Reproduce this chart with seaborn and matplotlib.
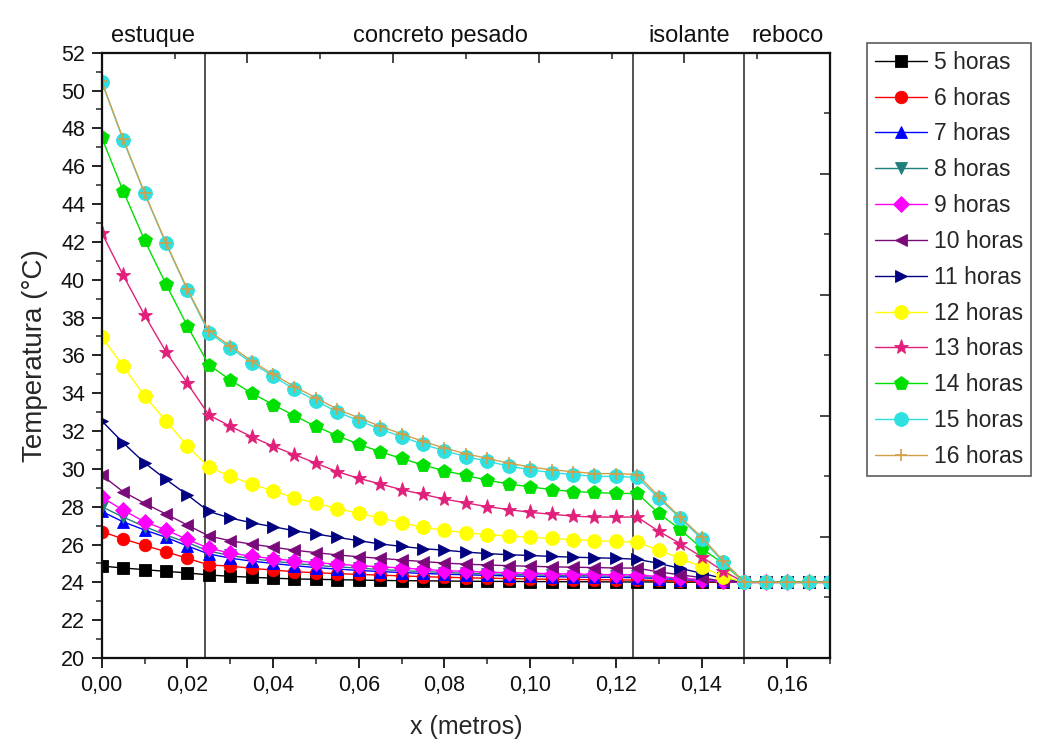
import matplotlib
matplotlib.use("Agg")
import matplotlib.pyplot as plt
import seaborn as sns
from matplotlib.ticker import MultipleLocator, FuncFormatter

# posicao (m) dos nos da malha
x_m = [0.000, 0.005, 0.010, 0.015, 0.020, 0.025, 0.030, 0.035, 0.040, 0.045,
       0.050, 0.055, 0.060, 0.065, 0.070, 0.075, 0.080, 0.085, 0.090, 0.095,
       0.100, 0.105, 0.110, 0.115, 0.120, 0.125, 0.130, 0.135, 0.140, 0.145,
       0.150, 0.155, 0.160, 0.165, 0.170]

t5 = [24.86, 24.76, 24.67, 24.58, 24.50, 24.39, 24.32, 24.27, 24.22, 24.18,
      24.16, 24.14, 24.12, 24.10, 24.09, 24.08, 24.07, 24.06, 24.05, 24.05,
      24.04, 24.04, 24.03, 24.03, 24.02, 24.02, 24.02, 24.01, 24.01, 24.00,
      24.00, 24.00, 24.00, 24.00, 24.00]
t6 = [26.68, 26.30, 25.95, 25.62, 25.27, 24.92, 24.86, 24.74, 24.65, 24.56,
      24.51, 24.46, 24.42, 24.38, 24.34, 24.30, 24.27, 24.24, 24.22, 24.20,
      24.18, 24.16, 24.15, 24.14, 24.13, 24.12, 24.10, 24.07, 24.05, 24.02,
      24.00, 24.00, 24.00, 24.00, 24.00]
t7 = [27.75, 27.20, 26.77, 26.38, 25.92, 25.50, 25.28, 25.12, 25.00, 24.88,
      24.78, 24.70, 24.63, 24.57, 24.52, 24.47, 24.43, 24.40, 24.37, 24.34,
      24.32, 24.30, 24.28, 24.27, 24.26, 24.25, 24.20, 24.15, 24.10, 24.05,
      24.00, 24.00, 24.00, 24.00, 24.00]
t8 = [28.00, 27.45, 26.95, 26.50, 26.10, 25.65, 25.42, 25.25, 25.12, 25.00,
      24.90, 24.82, 24.75, 24.68, 24.62, 24.57, 24.52, 24.48, 24.45, 24.42,
      24.40, 24.38, 24.36, 24.34, 24.33, 24.32, 24.25, 24.18, 24.12, 24.06,
      24.00, 24.00, 24.00, 24.00, 24.00]
t9 = [28.50, 27.82, 27.20, 26.77, 26.27, 25.80, 25.55, 25.38, 25.25, 25.14,
      25.04, 24.96, 24.88, 24.82, 24.76, 24.68, 24.62, 24.58, 24.54, 24.51,
      24.48, 24.46, 24.44, 24.42, 24.40, 24.40, 24.30, 24.22, 24.15, 24.07,
      24.00, 24.00, 24.00, 24.00, 24.00]
t10 = [29.67, 28.79, 28.18, 27.61, 27.03, 26.45, 26.20, 26.02, 25.86, 25.70,
       25.57, 25.45, 25.35, 25.27, 25.18, 25.10, 25.02, 24.96, 24.92, 24.88,
       24.85, 24.82, 24.80, 24.78, 24.76, 24.75, 24.55, 24.40, 24.25, 24.05,
       24.00, 24.00, 24.00, 24.00, 24.00]
t11 = [32.54, 31.38, 30.32, 29.44, 28.62, 27.75, 27.40, 27.15, 26.94, 26.73,
       26.55, 26.38, 26.20, 26.03, 25.90, 25.78, 25.70, 25.60, 25.52, 25.46,
       25.42, 25.37, 25.33, 25.30, 25.27, 25.22, 25.00, 24.74, 24.48, 24.21,
       24.00, 24.00, 24.00, 24.00, 24.00]
t12 = [36.98, 35.43, 33.85, 32.54, 31.20, 30.10, 29.60, 29.20, 28.83, 28.47,
       28.18, 27.90, 27.65, 27.40, 27.15, 26.90, 26.75, 26.62, 26.52, 26.45,
       26.38, 26.32, 26.26, 26.20, 26.16, 26.12, 25.70, 25.27, 24.83, 24.30,
       24.00, 24.00, 24.00, 24.00, 24.00]
t13 = [42.48, 40.24, 38.13, 36.19, 34.52, 32.85, 32.25, 31.70, 31.20, 30.75,
       30.30, 29.85, 29.50, 29.20, 28.90, 28.65, 28.40, 28.20, 28.00, 27.85,
       27.70, 27.60, 27.50, 27.45, 27.45, 27.45, 26.70, 26.05, 25.35, 24.60,
       24.00, 24.00, 24.00, 24.00, 24.00]
t14 = [47.52, 44.70, 42.09, 39.77, 37.55, 35.50, 34.70, 34.00, 33.40, 32.80,
       32.25, 31.75, 31.30, 30.90, 30.55, 30.20, 29.90, 29.65, 29.40, 29.20,
       29.05, 28.90, 28.80, 28.75, 28.70, 28.70, 27.65, 26.80, 25.80, 25.00,
       24.00, 24.00, 24.00, 24.00, 24.00]
t15 = [50.46, 47.40, 44.56, 41.92, 39.45, 37.20, 36.40, 35.60, 34.90, 34.20,
       33.60, 33.00, 32.55, 32.10, 31.70, 31.30, 30.95, 30.65, 30.40, 30.15,
       29.95, 29.80, 29.70, 29.60, 29.60, 29.55, 28.45, 27.40, 26.30, 25.10,
       24.00, 24.00, 24.00, 24.00, 24.00]
t16 = [50.50, 47.45, 44.60, 41.95, 39.50, 37.30, 36.50, 35.70, 35.00, 34.35,
       33.75, 33.15, 32.70, 32.25, 31.85, 31.45, 31.10, 30.80, 30.55, 30.30,
       30.10, 29.95, 29.85, 29.75, 29.75, 29.70, 28.55, 27.45, 26.40, 25.15,
       24.00, 24.00, 24.00, 24.00, 24.00]

labels = ["5 horas", "6 horas", "7 horas", "8 horas", "9 horas", "10 horas",
          "11 horas", "12 horas", "13 horas", "14 horas", "15 horas", "16 horas"]
series = [t5, t6, t7, t8, t9, t10, t11, t12, t13, t14, t15, t16]

colors = ["#000000", "#ff0000", "#0000ff", "#1f7f7a", "#ff00ff", "#7a0a7a",
          "#000080", "#ffff00", "#e0207a", "#00e000", "#30e0e0", "#d2a04a"]
markers = ["s", "o", "^", "v", "D", "<", ">", "o", "*", "p", "o", "+"]
msizes = [8, 9, 9, 9, 8, 9, 9, 10, 11, 10, 10, 9]

layer_pos = [0.024, 0.124, 0.150]
layer_names = ["estuque", "concreto pesado", "isolante", "reboco"]
layer_label_x = [0.012, 0.079, 0.137, 0.160]

sns.set_theme(style="ticks")
plt.rcParams["font.family"] = ["Liberation Sans", "DejaVu Sans"]

fig = plt.figure(figsize=(10.44, 7.49), dpi=100)
ax = fig.add_axes([0.0974, 0.1215, 0.6977, 0.8081])

for lab, y, c, m, ms in zip(labels, series, colors, markers, msizes):
    sns.lineplot(x=x_m, y=y, ax=ax, color=c, marker=m, markersize=ms,
                 markeredgecolor=c, markeredgewidth=1.2 if m == "+" else 0.6,
                 linewidth=1.0, label=lab)

for xv in layer_pos:
    ax.axvline(xv, color="#333333", linewidth=1.2, zorder=1)

ax.set_xlim(0, 0.17)
ax.set_ylim(20, 52)
ax.xaxis.set_major_locator(MultipleLocator(0.02))
ax.xaxis.set_minor_locator(MultipleLocator(0.01))
ax.yaxis.set_major_locator(MultipleLocator(2))
ax.yaxis.set_minor_locator(MultipleLocator(1))
ax.xaxis.set_major_formatter(FuncFormatter(lambda v, p: f"{v:.2f}".replace(".", ",")))
ax.tick_params(which="major", direction="out", length=7, width=1.3, labelsize=15.5,
               top=False, right=False, colors="#111111", pad=5)
ax.tick_params(which="minor", direction="out", length=4, width=1.1,
               top=False, right=False)
for s in ax.spines.values():
    s.set_linewidth(1.5)
    s.set_color("#111111")
    s.set_visible(True)

ax.set_xlabel("x (metros)", fontsize=18, labelpad=14)
ax.set_ylabel("Temperatura (°C)", fontsize=20, labelpad=9)

# eixos opostos (sem rotulos, ticks para dentro)
top = ax.twiny()
top.set_xlim(0, 0.17)
top.set_xticks([0.034, 0.068, 0.102, 0.136])
top.set_xticks([0.017, 0.051, 0.085, 0.119, 0.153], minor=True)
top.tick_params(which="major", direction="in", length=7, width=1.2, labeltop=False)
top.tick_params(which="minor", direction="in", length=4, width=1.1)
right = ax.twinx()
right.set_ylim(20, 52)
right.set_yticks([26.4, 32.8, 39.2, 45.6])
right.set_yticks([23.2, 29.6, 36.0, 42.4, 48.8], minor=True)
right.tick_params(which="major", direction="in", length=7, width=1.2, labelright=False)
right.tick_params(which="minor", direction="in", length=4, width=1.1)
for a in (top, right):
    for s in a.spines.values():
        s.set_linewidth(1.5)
        s.set_color("#111111")

for name, xv in zip(layer_names, layer_label_x):
    ax.text(xv, 1.010, name, transform=ax.get_xaxis_transform(), ha="center",
            va="bottom", fontsize=17, color="#111111")

handles, labs = ax.get_legend_handles_labels()
leg = fig.legend(handles, labs, loc="upper left", bbox_to_anchor=(0.830, 0.943),
                 fontsize=16.5, frameon=True, fancybox=False, edgecolor="#333333",
                 handlelength=2.3, handletextpad=0.3, labelspacing=0.56,
                 borderpad=0.35, borderaxespad=0)
leg.get_frame().set_linewidth(1.2)
ax.get_legend().remove()

fig.savefig("out.png", dpi=100, facecolor="white")
